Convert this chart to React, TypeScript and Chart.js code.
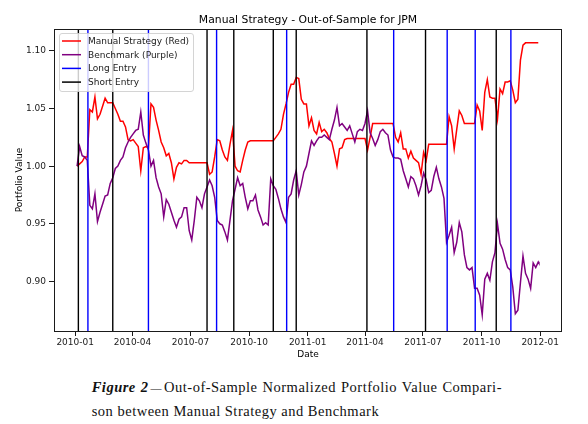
import { useEffect, useRef } from 'react';
import { Chart, registerables } from 'chart.js';

Chart.register(...registerables);

// ---- Data ----
const dates: string[] = [
  // 2010
  '2010-01-04', '2010-01-08', '2010-01-12', '2010-01-16', '2010-01-20', '2010-01-24', '2010-01-28',
  '2010-02-01', '2010-02-05', '2010-02-09', '2010-02-13', '2010-02-17', '2010-02-21', '2010-02-25',
  '2010-03-01', '2010-03-05', '2010-03-09', '2010-03-13', '2010-03-17', '2010-03-21', '2010-03-25', '2010-03-29',
  '2010-04-02', '2010-04-06', '2010-04-10', '2010-04-14', '2010-04-18', '2010-04-22', '2010-04-26', '2010-04-30',
  '2010-05-04', '2010-05-08', '2010-05-12', '2010-05-16', '2010-05-20', '2010-05-24', '2010-05-28',
  '2010-06-01', '2010-06-05', '2010-06-09', '2010-06-13', '2010-06-17', '2010-06-21', '2010-06-25', '2010-06-29',
  '2010-07-03', '2010-07-07', '2010-07-11', '2010-07-15', '2010-07-19', '2010-07-23', '2010-07-27', '2010-07-31',
  '2010-08-04', '2010-08-08', '2010-08-12', '2010-08-16', '2010-08-20', '2010-08-24', '2010-08-28',
  '2010-09-01', '2010-09-05', '2010-09-09', '2010-09-13', '2010-09-17', '2010-09-21', '2010-09-25', '2010-09-29',
  '2010-10-03', '2010-10-07', '2010-10-11', '2010-10-15', '2010-10-19', '2010-10-23', '2010-10-27', '2010-10-31',
  '2010-11-04', '2010-11-08', '2010-11-12', '2010-11-16', '2010-11-20', '2010-11-24', '2010-11-28',
  '2010-12-02', '2010-12-06', '2010-12-10', '2010-12-14', '2010-12-18', '2010-12-22', '2010-12-26', '2010-12-30',
  // 2011
  '2011-01-03', '2011-01-07', '2011-01-11', '2011-01-15', '2011-01-19', '2011-01-23', '2011-01-27', '2011-01-31',
  '2011-02-04', '2011-02-08', '2011-02-12', '2011-02-16', '2011-02-20', '2011-02-24', '2011-02-28',
  '2011-03-04', '2011-03-08', '2011-03-12', '2011-03-16', '2011-03-20', '2011-03-24', '2011-03-28',
  '2011-04-01', '2011-04-05', '2011-04-09', '2011-04-13', '2011-04-17', '2011-04-21', '2011-04-25', '2011-04-29',
  '2011-05-03', '2011-05-07', '2011-05-11', '2011-05-15', '2011-05-19', '2011-05-23', '2011-05-27', '2011-05-31',
  '2011-06-04', '2011-06-08', '2011-06-12', '2011-06-16', '2011-06-20', '2011-06-24', '2011-06-28',
  '2011-07-02', '2011-07-06', '2011-07-10', '2011-07-14', '2011-07-18', '2011-07-22', '2011-07-26', '2011-07-30',
  '2011-08-03', '2011-08-07', '2011-08-11', '2011-08-15', '2011-08-19', '2011-08-23', '2011-08-27', '2011-08-31',
  '2011-09-04', '2011-09-08', '2011-09-12', '2011-09-16', '2011-09-20', '2011-09-24', '2011-09-28',
  '2011-10-02', '2011-10-06', '2011-10-10', '2011-10-14', '2011-10-18', '2011-10-22', '2011-10-26', '2011-10-30',
  '2011-11-03', '2011-11-07', '2011-11-11', '2011-11-15', '2011-11-19', '2011-11-23', '2011-11-27',
  '2011-12-01', '2011-12-05', '2011-12-09', '2011-12-13', '2011-12-17', '2011-12-21', '2011-12-25', '2011-12-29', '2011-12-30',
];

const manualValues: number[] = [
  // 2010
  1.000, 1.002, 1.004, 1.008, 1.008, 1.049, 1.047,
  1.060, 1.041, 1.045, 1.052, 1.059, 1.055, 1.055,
  1.055, 1.050, 1.045, 1.039, 1.039, 1.034, 1.023, 1.022,
  1.023, 1.020, 1.017, 0.996, 1.016, 1.017, 1.016, 1.054,
  1.051, 1.040, 1.031, 1.021, 1.016, 1.009, 1.011,
  1.003, 0.989, 0.999, 1.003, 1.002, 1.005, 1.005, 1.003,
  1.003, 1.003, 1.003, 1.003, 1.003, 1.003, 1.003, 0.993,
  0.995, 1.008, 1.023, 1.022, 1.014, 1.008, 1.005,
  1.019, 1.031, 1.000, 0.996, 0.995, 1.005, 1.014, 1.021,
  1.022, 1.022, 1.022, 1.022, 1.022, 1.022, 1.022, 1.022,
  1.022, 1.022, 1.025, 1.028, 1.032, 1.045, 1.054,
  1.064, 1.071, 1.071, 1.077, 1.076, 1.058, 1.054, 1.054,
  // 2011
  1.035, 1.042, 1.031, 1.028, 1.038, 1.030, 1.032, 1.029,
  1.024, 1.021, 1.011, 1.000, 1.015, 1.016, 1.023,
  1.024, 1.024, 1.024, 1.024, 1.024, 1.024, 1.024,
  1.024, 1.014, 1.025, 1.037, 1.037, 1.037, 1.037, 1.037,
  1.037, 1.037, 1.037, 1.037, 1.025, 1.021, 1.029, 1.015,
  1.015, 1.007, 1.013, 1.007, 1.005, 1.003, 0.993,
  1.012, 1.005, 1.019, 1.019, 1.019, 1.019, 1.019, 1.019,
  1.019, 1.019, 1.043, 1.035, 1.015, 1.032, 1.048, 1.044,
  1.037, 1.037, 1.037, 1.037, 1.037, 1.053, 1.048,
  1.031, 1.064, 1.075, 1.060, 1.059, 1.059, 1.041, 1.067,
  1.063, 1.073, 1.073, 1.074, 1.066, 1.055, 1.058,
  1.092, 1.105, 1.107, 1.107, 1.107, 1.107, 1.107, 1.107, 1.107,
];

const benchmarkValues: number[] = [
  // 2010
  1.000, 1.017, 1.009, 1.008, 1.005, 0.966, 0.963,
  0.976, 0.952, 0.960, 0.967, 0.974, 0.975, 0.985,
  0.990, 0.998, 1.000, 1.005, 1.008, 1.016, 1.021, 1.025,
  1.028, 1.031, 1.032, 1.047, 1.027, 1.020, 1.014, 1.000,
  1.005, 0.990, 0.982, 0.976, 0.956, 0.971, 0.967,
  0.960, 0.953, 0.947, 0.954, 0.956, 0.964, 0.964, 0.944,
  0.936, 0.953, 0.973, 0.970, 0.964, 0.976, 0.982, 0.988,
  0.983, 0.973, 0.953, 0.950, 0.949, 0.943, 0.936,
  0.953, 0.970, 0.980, 0.990, 0.983, 0.985, 0.973, 0.963,
  0.970, 0.970, 0.975, 0.962, 0.956, 0.949, 0.951, 0.949,
  0.989, 0.983, 0.980, 0.972, 0.963, 0.956, 0.951,
  0.973, 0.976, 0.988, 0.996, 0.975, 0.984, 0.995, 1.000,
  // 2011
  1.011, 1.022, 1.018, 1.022, 1.025, 1.025, 1.027, 1.025,
  1.023, 1.032, 1.040, 1.051, 1.035, 1.037, 1.034,
  1.031, 1.035, 1.028, 1.021, 1.030, 1.032, 1.031,
  1.037, 1.048, 1.029, 1.024, 1.018, 1.023, 1.030, 1.032,
  1.029, 1.027, 1.014, 1.008, 1.007, 1.007, 1.006, 0.996,
  0.989, 0.982, 0.991, 0.989, 0.983, 0.975, 0.983,
  0.994, 0.988, 0.977, 0.979, 0.991, 0.999, 0.989, 0.982,
  0.972, 0.934, 0.940, 0.947, 0.925, 0.934, 0.951, 0.943,
  0.923, 0.912, 0.910, 0.912, 0.894, 0.894, 0.888,
  0.871, 0.902, 0.907, 0.901, 0.917, 0.925, 0.950, 0.933,
  0.928, 0.919, 0.912, 0.910, 0.895, 0.872, 0.875,
  0.899, 0.922, 0.907, 0.902, 0.894, 0.916, 0.912, 0.917, 0.916,
];

const longEntryDates: string[] = [
  '2010-01-21', '2010-04-26', '2010-08-11', '2010-11-29',
  '2011-05-16', '2011-08-08', '2011-09-21', '2011-11-16',
];
const shortEntryDates: string[] = [
  '2010-01-06', '2010-03-01', '2010-07-27', '2010-09-07', '2010-11-08',
  '2010-12-14', '2011-04-04', '2011-07-05', '2011-10-24',
];

const xTickDates: string[] = [
  '2010-01-01', '2010-04-01', '2010-07-01', '2010-10-01', '2011-01-01',
  '2011-04-01', '2011-07-01', '2011-10-01', '2012-01-01',
];
const xTickLabels: string[] = [
  '2010-01', '2010-04', '2010-07', '2010-10', '2011-01',
  '2011-04', '2011-07', '2011-10', '2012-01',
];
const yTickValues: number[] = [0.9, 0.95, 1.0, 1.05, 1.1];

const titleText = 'Manual Strategy - Out-of-Sample for JPM';
const yAxisTitle = 'Portfolio Value';
const xAxisTitle = 'Date';
const legendLabels: string[] = ['Manual Strategy (Red)', 'Benchmark (Purple)', 'Long Entry', 'Short Entry'];

// ---- Styles ----
const RED = '#ff0000';
const PURPLE = '#800080';
const BLUE = '#0000ff';
const BLACK = '#000000';
const legendColors = [RED, PURPLE, BLUE, BLACK];
const FONT = '"DejaVu Sans", sans-serif';
const Y_MIN = 0.857;
const Y_MAX = 1.119;

const toDay = (s: string): number => {
  const [y, m, d] = s.split('-').map(Number);
  return (Date.UTC(y, m - 1, d) - Date.UTC(2010, 0, 1)) / 86400000;
};

const firstDay = toDay(dates[0]);
const lastDay = toDay(dates[dates.length - 1]);
const xMargin = (lastDay - firstDay) * 0.05;

const overlayPlugin = {
  id: 'overlay',
  afterDraw(chart: any) {
    const { ctx, chartArea: a } = chart;
    ctx.save();
    // axes frame (all four spines)
    ctx.strokeStyle = '#1a1a1a';
    ctx.lineWidth = 1;
    const l = Math.round(a.left), t = Math.round(a.top), r = Math.round(a.right), b = Math.round(a.bottom);
    ctx.strokeRect(l + 0.5, t + 0.5, r - l - 1, b - t);
    // title, centred over the axes
    ctx.fillStyle = '#000';
    ctx.font = `10.8px ${FONT}`;
    ctx.textAlign = 'center';
    ctx.textBaseline = 'alphabetic';
    ctx.fillText(titleText, (a.left + a.right) / 2, a.top - 5.7);
    // legend (upper left, inside the axes)
    const bx = a.left + 5, by = a.top + 4, bw = 134, bh = 58;
    ctx.beginPath();
    if (ctx.roundRect) ctx.roundRect(bx + 0.5, by + 0.5, bw, bh, 2.5);
    else ctx.rect(bx + 0.5, by + 0.5, bw, bh);
    ctx.fillStyle = 'rgba(255,255,255,0.8)';
    ctx.fill();
    ctx.strokeStyle = 'rgba(204,204,204,0.85)';
    ctx.stroke();
    ctx.font = `9px ${FONT}`;
    ctx.textAlign = 'left';
    ctx.textBaseline = 'middle';
    legendLabels.forEach((lab, i) => {
      const ry = by + 8 + i * 13.7;
      ctx.strokeStyle = legendColors[i];
      ctx.lineWidth = 1.5;
      ctx.beginPath();
      ctx.moveTo(bx + 3, ry);
      ctx.lineTo(bx + 22, ry);
      ctx.stroke();
      ctx.fillStyle = '#1a1a1a';
      ctx.fillText(lab, bx + 29, ry + 0.5);
    });
    ctx.restore();
  },
};

export default function App() {
  const canvasRef = useRef<HTMLCanvasElement>(null);

  useEffect(() => {
    const canvas = canvasRef.current;
    if (!canvas) return;

    const lineSet = (values: number[], color: string, label: string, order: number) => ({
      label,
      data: dates.map((d, i) => ({ x: toDay(d), y: values[i] })),
      borderColor: color,
      backgroundColor: color,
      borderWidth: 1.5,
      pointRadius: 0,
      tension: 0,
      fill: false,
      order,
    });
    const vlines = (list: string[], color: string, label: string) =>
      list.map((d) => ({
        label,
        data: [
          { x: toDay(d), y: Y_MIN },
          { x: toDay(d), y: Y_MAX },
        ],
        borderColor: color,
        backgroundColor: color,
        borderWidth: 1.4,
        pointRadius: 0,
        fill: false,
        order: 0,
      }));

    const chart = new Chart(canvas, {
      type: 'line',
      data: {
        datasets: [
          lineSet(manualValues, RED, legendLabels[0], 2),
          lineSet(benchmarkValues, PURPLE, legendLabels[1], 1),
          ...vlines(longEntryDates, BLUE, legendLabels[2]),
          ...vlines(shortEntryDates, BLACK, legendLabels[3]),
        ] as any,
      },
      options: {
        animation: false,
        responsive: false,
        devicePixelRatio: 1,
        layout: { padding: { top: 29, right: 26, bottom: 0, left: 0 } },
        plugins: {
          legend: { display: false },
          title: { display: false },
          tooltip: { enabled: false },
        },
        scales: {
          x: {
            type: 'linear',
            min: firstDay - xMargin,
            max: lastDay + xMargin,
            afterBuildTicks: (scale: any) => {
              scale.ticks = xTickDates.map((d) => ({ value: toDay(d) }));
            },
            afterFit: (scale: any) => {
              scale.height = 37;
            },
            ticks: {
              autoSkip: false,
              maxRotation: 0,
              padding: 1,
              color: '#1a1a1a',
              font: { family: FONT, size: 9 },
              callback: (value: any) => {
                const idx = xTickDates.findIndex((d) => toDay(d) === value);
                return idx >= 0 ? xTickLabels[idx] : '';
              },
            },
            grid: { drawOnChartArea: false, drawTicks: true, tickLength: 5, color: '#1a1a1a' },
            border: { display: false },
            title: {
              display: true,
              text: xAxisTitle,
              color: '#000',
              font: { family: FONT, size: 9 },
              padding: { top: 0, bottom: 8.3 },
            },
          },
          y: {
            type: 'linear',
            min: Y_MIN,
            max: Y_MAX,
            afterBuildTicks: (scale: any) => {
              scale.ticks = yTickValues.map((v) => ({ value: v }));
            },
            afterFit: (scale: any) => {
              scale.width = 54;
            },
            ticks: {
              autoSkip: false,
              padding: 3,
              color: '#1a1a1a',
              font: { family: FONT, size: 9 },
              callback: (value: any) => Number(value).toFixed(2),
            },
            grid: { drawOnChartArea: false, drawTicks: true, tickLength: 5, color: '#1a1a1a' },
            border: { display: false },
            title: {
              display: true,
              text: yAxisTitle,
              color: '#000',
              font: { family: FONT, size: 9 },
              padding: { top: 14, bottom: 0 },
            },
          },
        },
      } as any,
      plugins: [overlayPlugin],
    });

    return () => chart.destroy();
  }, []);

  return (
    <div style={{ position: 'absolute', left: 0, top: 0, width: 588, height: 424, background: '#fff', overflow: 'hidden' }}>
      <canvas
        ref={canvasRef}
        width={588}
        height={368}
        style={{ position: 'absolute', left: 0, top: 0, width: 588, height: 368 }}
      />
      <div
        style={{
          position: 'absolute',
          left: 91.7,
          top: 375.8,
          width: 410.3,
          fontFamily: '"Liberation Serif", serif',
          fontSize: 14.5,
          lineHeight: '22.7px',
          letterSpacing: '0.5px',
          color: '#111',
        }}
      >
        <div style={{ whiteSpace: 'nowrap', textAlign: 'justify', textAlignLast: 'justify' } as any}>
          <span style={{ fontWeight: 'bold', fontStyle: 'italic' }}>Figure 2</span>
          <span style={{ fontSize: 11, margin: '0 2px' }}>—</span>
          Out-of-Sample Normalized Portfolio Value Compari-
        </div>
        <div style={{ whiteSpace: 'nowrap' }}>son between Manual Strategy and Benchmark</div>
      </div>
    </div>
  );
}
